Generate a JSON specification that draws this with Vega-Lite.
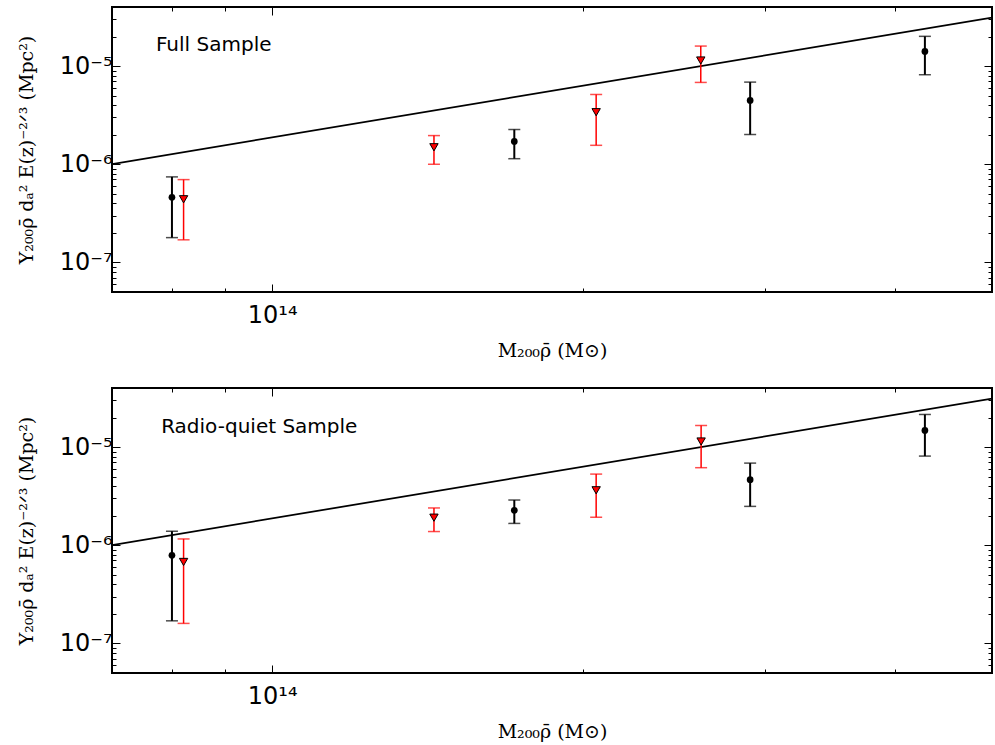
{
  "$schema": "https://vega.github.io/schema/vega-lite/v6.json",
  "padding": {"left": 16, "top": 5, "right": 0, "bottom": 0},
  "spacing": 25,
  "background": "white",
  "config": {
    "view": {"stroke": "black", "strokeWidth": 2},
    "axis": {
      "domain": false, "grid": false, "tickColor": "black", "tickWidth": 1,
      "labelFont": "DejaVu Sans", "labelFontSize": 24, "labelColor": "black",
      "titleFont": "DejaVu Serif", "titleFontWeight": "normal", "titleFontSize": 19, "titleColor": "black"
    }
  },
  "datasets": {
    "fitline": [
      {"M": 7e13, "Y": 1.005e-6},
      {"M": 4.97e14, "Y": 3.12e-5}
    ],
    "full": [
      {"set": "A", "M": 8.0e13, "Y": 4.61e-7, "lo": 1.79e-7, "hi": 7.44e-7},
      {"set": "A", "M": 1.715e14, "Y": 1.71e-6, "lo": 1.14e-6, "hi": 2.26e-6},
      {"set": "A", "M": 2.90e14, "Y": 4.47e-6, "lo": 2.01e-6, "hi": 6.87e-6},
      {"set": "A", "M": 4.28e14, "Y": 1.41e-5, "lo": 8.17e-6, "hi": 2.01e-5},
      {"set": "B", "M": 8.21e13, "Y": 4.40e-7, "lo": 1.70e-7, "hi": 6.98e-7},
      {"set": "B", "M": 1.434e14, "Y": 1.49e-6, "lo": 1.0e-6, "hi": 1.96e-6},
      {"set": "B", "M": 2.058e14, "Y": 3.39e-6, "lo": 1.56e-6, "hi": 5.14e-6},
      {"set": "B", "M": 2.598e14, "Y": 1.14e-5, "lo": 6.82e-6, "hi": 1.60e-5}
    ],
    "rq": [
      {"set": "A", "M": 8.0e13, "Y": 7.91e-7, "lo": 1.70e-7, "hi": 1.39e-6},
      {"set": "A", "M": 1.715e14, "Y": 2.27e-6, "lo": 1.67e-6, "hi": 2.89e-6},
      {"set": "A", "M": 2.90e14, "Y": 4.66e-6, "lo": 2.49e-6, "hi": 6.87e-6},
      {"set": "A", "M": 4.28e14, "Y": 1.48e-5, "lo": 8.10e-6, "hi": 2.15e-5},
      {"set": "B", "M": 8.21e13, "Y": 6.76e-7, "lo": 1.60e-7, "hi": 1.16e-6},
      {"set": "B", "M": 1.434e14, "Y": 1.91e-6, "lo": 1.38e-6, "hi": 2.40e-6},
      {"set": "B", "M": 2.058e14, "Y": 3.63e-6, "lo": 1.93e-6, "hi": 5.31e-6},
      {"set": "B", "M": 2.60e14, "Y": 1.14e-5, "lo": 6.17e-6, "hi": 1.66e-5}
    ]
  },
  "vconcat": [
    {
      "width": 880, "height": 285,
      "resolve": {"axis": {"x": "independent", "y": "independent"}},
      "layer": [
        {
          "data": {"name": "fitline"},
          "mark": {"type": "line", "color": "black", "strokeWidth": 1.75, "clip": true},
          "encoding": {
            "x": {"field": "M", "type": "quantitative", "scale": {"type": "log", "domain": [7e13, 4.97e14], "nice": false},
                  "axis": {"orient": "bottom", "values": [1e14], "labelExpr": "'10¹⁴'", "tickSize": -8, "labelPadding": 19, "title": "M₂₀₀ρ̄ (M⊙)", "titlePadding": 14}},
            "y": {"field": "Y", "type": "quantitative", "scale": {"type": "log", "domain": [5e-8, 4e-5], "nice": false},
                  "axis": {"orient": "left", "values": [1e-7, 1e-6, 1e-5], "labelExpr": "datum.value < 5e-7 ? '10⁻⁷' : datum.value < 5e-6 ? '10⁻⁶' : '10⁻⁵'", "tickSize": -8, "labelPadding": 8, "title": "Y₂₀₀ρ̄ dₐ²  E(z)⁻²ᐟ³  (Mpc²)", "titlePadding": 23}}
          }
        },
        {
          "data": {"name": "full"},
          "transform": [{"filter": "datum.set == 'A'"}],
          "mark": {"type": "rule", "color": "black", "strokeWidth": 2},
          "encoding": {
            "x": {"field": "M", "type": "quantitative", "scale": {"type": "log", "domain": [7e13, 4.97e14], "nice": false},
                  "axis": {"orient": "bottom", "values": [8e13, 9e13, 2e14, 3e14, 4e14], "labels": false, "tickSize": -4, "title": null}},
            "y": {"field": "lo", "type": "quantitative", "scale": {"type": "log", "domain": [5e-8, 4e-5], "nice": false},
                  "axis": {"orient": "left", "values": [6e-8, 7e-8, 8e-8, 9e-8, 2e-7, 3e-7, 4e-7, 5e-7, 6e-7, 7e-7, 8e-7, 9e-7, 2e-6, 3e-6, 4e-6, 5e-6, 6e-6, 7e-6, 8e-6, 9e-6, 2e-5, 3e-5, 4e-5], "labels": false, "tickSize": -4, "title": null}},
            "y2": {"field": "hi"}
          }
        },
        {
          "data": {"name": "full"},
          "transform": [{"filter": "datum.set == 'B'"}],
          "mark": {"type": "rule", "color": "#ff0000", "strokeWidth": 1.5},
          "encoding": {
            "x": {"field": "M", "type": "quantitative", "scale": {"type": "log", "domain": [7e13, 4.97e14], "nice": false},
                  "axis": {"orient": "top", "values": [1e14], "labels": false, "tickSize": -8, "title": null}},
            "y": {"field": "lo", "type": "quantitative", "scale": {"type": "log", "domain": [5e-8, 4e-5], "nice": false},
                  "axis": {"orient": "right", "values": [1e-7, 1e-6, 1e-5], "labels": false, "tickSize": -8, "title": null}},
            "y2": {"field": "hi"}
          }
        },
        {
          "data": {"name": "full"},
          "transform": [{"filter": "datum.set == 'A'"}, {"fold": ["lo", "hi"], "as": ["end", "val"]}],
          "mark": {"type": "tick", "orient": "horizontal", "color": "black", "size": 12, "thickness": 1.5},
          "encoding": {
            "x": {"field": "M", "type": "quantitative", "scale": {"type": "log", "domain": [7e13, 4.97e14], "nice": false},
                  "axis": {"orient": "top", "values": [8e13, 9e13, 2e14, 3e14, 4e14], "labels": false, "tickSize": -4, "title": null}},
            "y": {"field": "val", "type": "quantitative", "scale": {"type": "log", "domain": [5e-8, 4e-5], "nice": false},
                  "axis": {"orient": "right", "values": [6e-8, 7e-8, 8e-8, 9e-8, 2e-7, 3e-7, 4e-7, 5e-7, 6e-7, 7e-7, 8e-7, 9e-7, 2e-6, 3e-6, 4e-6, 5e-6, 6e-6, 7e-6, 8e-6, 9e-6, 2e-5, 3e-5, 4e-5], "labels": false, "tickSize": -4, "title": null}}
          }
        },
        {
          "data": {"name": "full"},
          "transform": [{"filter": "datum.set == 'B'"}, {"fold": ["lo", "hi"], "as": ["end", "val"]}],
          "mark": {"type": "tick", "orient": "horizontal", "color": "#ff0000", "size": 12, "thickness": 1.5},
          "encoding": {
            "x": {"field": "M", "type": "quantitative", "scale": {"type": "log", "domain": [7e13, 4.97e14], "nice": false}, "axis": null},
            "y": {"field": "val", "type": "quantitative", "scale": {"type": "log", "domain": [5e-8, 4e-5], "nice": false}, "axis": null}
          }
        },
        {
          "data": {"name": "full"},
          "transform": [{"filter": "datum.set == 'A'"}],
          "mark": {"type": "point", "shape": "circle", "filled": true, "color": "black", "size": 45, "opacity": 1},
          "encoding": {
            "x": {"field": "M", "type": "quantitative", "scale": {"type": "log", "domain": [7e13, 4.97e14], "nice": false}, "axis": null},
            "y": {"field": "Y", "type": "quantitative", "scale": {"type": "log", "domain": [5e-8, 4e-5], "nice": false}, "axis": null}
          }
        },
        {
          "data": {"name": "full"},
          "transform": [{"filter": "datum.set == 'B'"}],
          "mark": {"type": "point", "shape": "triangle-down", "filled": true, "fill": "#ff0000", "stroke": "black", "strokeWidth": 1, "size": 70, "opacity": 1},
          "encoding": {
            "x": {"field": "M", "type": "quantitative", "scale": {"type": "log", "domain": [7e13, 4.97e14], "nice": false}, "axis": null},
            "y": {"field": "Y", "type": "quantitative", "scale": {"type": "log", "domain": [5e-8, 4e-5], "nice": false}, "axis": null}
          }
        },
        {
          "data": {"values": [{"M": 7.72e13, "Y": 1.63e-5, "label": "Full Sample"}]},
          "mark": {"type": "text", "align": "left", "baseline": "middle", "font": "DejaVu Sans", "fontSize": 20, "color": "black"},
          "encoding": {
            "x": {"field": "M", "type": "quantitative", "scale": {"type": "log", "domain": [7e13, 4.97e14], "nice": false}, "axis": null},
            "y": {"field": "Y", "type": "quantitative", "scale": {"type": "log", "domain": [5e-8, 4e-5], "nice": false}, "axis": null},
            "text": {"field": "label"}
          }
        }
      ]
    },
    {
      "width": 880, "height": 285,
      "resolve": {"axis": {"x": "independent", "y": "independent"}},
      "layer": [
        {
          "data": {"name": "fitline"},
          "mark": {"type": "line", "color": "black", "strokeWidth": 1.75, "clip": true},
          "encoding": {
            "x": {"field": "M", "type": "quantitative", "scale": {"type": "log", "domain": [7e13, 4.97e14], "nice": false},
                  "axis": {"orient": "bottom", "values": [1e14], "labelExpr": "'10¹⁴'", "tickSize": -8, "labelPadding": 19, "title": "M₂₀₀ρ̄ (M⊙)", "titlePadding": 14}},
            "y": {"field": "Y", "type": "quantitative", "scale": {"type": "log", "domain": [5e-8, 4e-5], "nice": false},
                  "axis": {"orient": "left", "values": [1e-7, 1e-6, 1e-5], "labelExpr": "datum.value < 5e-7 ? '10⁻⁷' : datum.value < 5e-6 ? '10⁻⁶' : '10⁻⁵'", "tickSize": -8, "labelPadding": 8, "title": "Y₂₀₀ρ̄ dₐ²  E(z)⁻²ᐟ³  (Mpc²)", "titlePadding": 23}}
          }
        },
        {
          "data": {"name": "rq"},
          "transform": [{"filter": "datum.set == 'A'"}],
          "mark": {"type": "rule", "color": "black", "strokeWidth": 2},
          "encoding": {
            "x": {"field": "M", "type": "quantitative", "scale": {"type": "log", "domain": [7e13, 4.97e14], "nice": false},
                  "axis": {"orient": "bottom", "values": [8e13, 9e13, 2e14, 3e14, 4e14], "labels": false, "tickSize": -4, "title": null}},
            "y": {"field": "lo", "type": "quantitative", "scale": {"type": "log", "domain": [5e-8, 4e-5], "nice": false},
                  "axis": {"orient": "left", "values": [6e-8, 7e-8, 8e-8, 9e-8, 2e-7, 3e-7, 4e-7, 5e-7, 6e-7, 7e-7, 8e-7, 9e-7, 2e-6, 3e-6, 4e-6, 5e-6, 6e-6, 7e-6, 8e-6, 9e-6, 2e-5, 3e-5, 4e-5], "labels": false, "tickSize": -4, "title": null}},
            "y2": {"field": "hi"}
          }
        },
        {
          "data": {"name": "rq"},
          "transform": [{"filter": "datum.set == 'B'"}],
          "mark": {"type": "rule", "color": "#ff0000", "strokeWidth": 1.5},
          "encoding": {
            "x": {"field": "M", "type": "quantitative", "scale": {"type": "log", "domain": [7e13, 4.97e14], "nice": false},
                  "axis": {"orient": "top", "values": [1e14], "labels": false, "tickSize": -8, "title": null}},
            "y": {"field": "lo", "type": "quantitative", "scale": {"type": "log", "domain": [5e-8, 4e-5], "nice": false},
                  "axis": {"orient": "right", "values": [1e-7, 1e-6, 1e-5], "labels": false, "tickSize": -8, "title": null}},
            "y2": {"field": "hi"}
          }
        },
        {
          "data": {"name": "rq"},
          "transform": [{"filter": "datum.set == 'A'"}, {"fold": ["lo", "hi"], "as": ["end", "val"]}],
          "mark": {"type": "tick", "orient": "horizontal", "color": "black", "size": 12, "thickness": 1.5},
          "encoding": {
            "x": {"field": "M", "type": "quantitative", "scale": {"type": "log", "domain": [7e13, 4.97e14], "nice": false},
                  "axis": {"orient": "top", "values": [8e13, 9e13, 2e14, 3e14, 4e14], "labels": false, "tickSize": -4, "title": null}},
            "y": {"field": "val", "type": "quantitative", "scale": {"type": "log", "domain": [5e-8, 4e-5], "nice": false},
                  "axis": {"orient": "right", "values": [6e-8, 7e-8, 8e-8, 9e-8, 2e-7, 3e-7, 4e-7, 5e-7, 6e-7, 7e-7, 8e-7, 9e-7, 2e-6, 3e-6, 4e-6, 5e-6, 6e-6, 7e-6, 8e-6, 9e-6, 2e-5, 3e-5, 4e-5], "labels": false, "tickSize": -4, "title": null}}
          }
        },
        {
          "data": {"name": "rq"},
          "transform": [{"filter": "datum.set == 'B'"}, {"fold": ["lo", "hi"], "as": ["end", "val"]}],
          "mark": {"type": "tick", "orient": "horizontal", "color": "#ff0000", "size": 12, "thickness": 1.5},
          "encoding": {
            "x": {"field": "M", "type": "quantitative", "scale": {"type": "log", "domain": [7e13, 4.97e14], "nice": false}, "axis": null},
            "y": {"field": "val", "type": "quantitative", "scale": {"type": "log", "domain": [5e-8, 4e-5], "nice": false}, "axis": null}
          }
        },
        {
          "data": {"name": "rq"},
          "transform": [{"filter": "datum.set == 'A'"}],
          "mark": {"type": "point", "shape": "circle", "filled": true, "color": "black", "size": 45, "opacity": 1},
          "encoding": {
            "x": {"field": "M", "type": "quantitative", "scale": {"type": "log", "domain": [7e13, 4.97e14], "nice": false}, "axis": null},
            "y": {"field": "Y", "type": "quantitative", "scale": {"type": "log", "domain": [5e-8, 4e-5], "nice": false}, "axis": null}
          }
        },
        {
          "data": {"name": "rq"},
          "transform": [{"filter": "datum.set == 'B'"}],
          "mark": {"type": "point", "shape": "triangle-down", "filled": true, "fill": "#ff0000", "stroke": "black", "strokeWidth": 1, "size": 70, "opacity": 1},
          "encoding": {
            "x": {"field": "M", "type": "quantitative", "scale": {"type": "log", "domain": [7e13, 4.97e14], "nice": false}, "axis": null},
            "y": {"field": "Y", "type": "quantitative", "scale": {"type": "log", "domain": [5e-8, 4e-5], "nice": false}, "axis": null}
          }
        },
        {
          "data": {"values": [{"M": 7.81e13, "Y": 1.6e-5, "label": "Radio-quiet Sample"}]},
          "mark": {"type": "text", "align": "left", "baseline": "middle", "font": "DejaVu Sans", "fontSize": 20, "color": "black"},
          "encoding": {
            "x": {"field": "M", "type": "quantitative", "scale": {"type": "log", "domain": [7e13, 4.97e14], "nice": false}, "axis": null},
            "y": {"field": "Y", "type": "quantitative", "scale": {"type": "log", "domain": [5e-8, 4e-5], "nice": false}, "axis": null},
            "text": {"field": "label"}
          }
        }
      ]
    }
  ]
}
